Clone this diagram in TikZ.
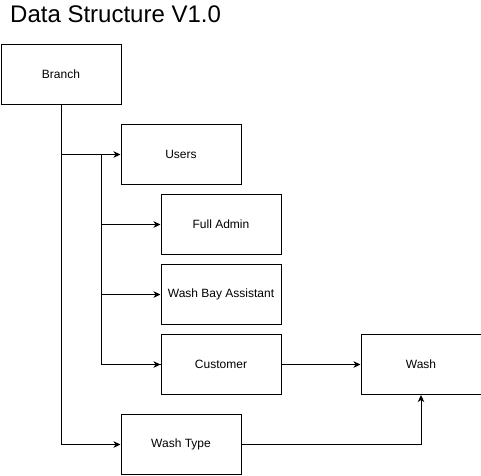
\documentclass[tikz,border=0pt]{standalone}
\usepackage{fontspec}
\setmainfont{Liberation Sans}
\usetikzlibrary{arrows.meta}
\begin{document}
\begin{tikzpicture}[x=1pt,y=-1pt,
  box/.style={draw, line width=1pt, minimum width=120pt, minimum height=60pt, inner sep=0pt, anchor=north west, font=\fontsize{12}{14}\selectfont},
  conn/.style={line width=1pt, -{Stealth[length=7pt,width=6.5pt,inset=2pt]}},
  seg/.style={line width=1pt}]
\useasboundingbox (0,0) rectangle (481,475);
\node[anchor=base west, inner sep=0pt, font=\fontsize{24}{28}\selectfont] (title) at (10,22) {Data Structure V1.0};
\node[box] (branch) at (0.5,44) {Branch};
\node[box] (users) at (120.5,124) {Users};
\node[box] (admin) at (160.5,194) {Full Admin};
\node[box] (bay) at (160.5,264) {Wash Bay Assistant};
\node[box] (cust) at (160.5,334) {Customer};
\node[box] (wash) at (360.5,334) {Wash};
\node[box] (type) at (120.5,414) {Wash Type};
\coordinate (j1) at (branch.south |- users.west);
\coordinate (j2) at (101,154);
\draw[conn] (branch.south) |- (type.west);
\draw[conn] (j1) -- (users.west);
\draw[seg] (j2) |- (cust.west);
\draw[conn] (j2 |- admin.west) -- (admin.west);
\draw[conn] (j2 |- bay.west) -- (bay.west);
\draw[conn] (j2 |- cust.west) -- (cust.west);
\draw[conn] (cust.east) -- (wash.west);
\draw[conn] (type.east) -| (wash.south);
\end{tikzpicture}
\end{document}
